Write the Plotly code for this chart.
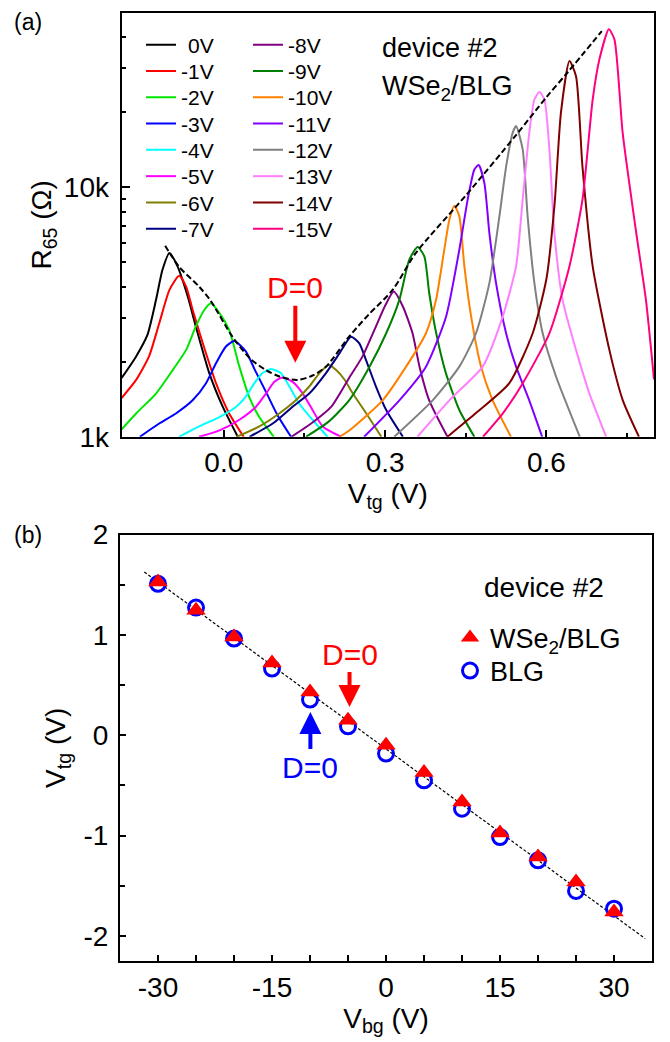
import plotly.graph_objects as go

FONT = "Arial, Liberation Sans, sans-serif"

# ---------------- panel (a) data: R65 (kOhm) vs Vtg (V) ----------------
curve_names = ["\u20040V", "-1V", "-2V", "-3V", "-4V", "-5V", "-6V", "-7V",
               "-8V", "-9V", "-10V", "-11V", "-12V", "-13V", "-14V", "-15V"]
curve_colors = ["#000000", "#FF0000", "#00E600", "#0000FF", "#00FFFF", "#FF00FF",
                "#808000", "#000080", "#800080", "#008000", "#FF8000", "#8000FF",
                "#808080", "#FF80FF", "#800000", "#FF0080"]

v0_x = [-0.19, -0.163, -0.142, -0.126, -0.114, -0.101, -0.086, -0.067, -0.052, -0.027, -0.002, 0.026]
v0_r = [1.72, 2.10, 2.56, 3.54, 4.67, 5.45, 4.82, 3.65, 2.77, 1.80, 1.32, 1.0]
v1_x = [-0.19, -0.163, -0.139, -0.12, -0.101, -0.083, -0.070, -0.058, -0.039, -0.0145, 0.010, 0.037]
v1_r = [1.43, 1.69, 2.10, 2.85, 3.88, 4.42, 4.0, 3.23, 2.37, 1.64, 1.24, 1.0]
v2_x = [-0.19, -0.163, -0.126, -0.095, -0.070, -0.052, -0.036, -0.024, -0.008, 0.010, 0.029, 0.047, 0.066, 0.093]
v2_r = [1.07, 1.24, 1.49, 1.85, 2.23, 2.77, 3.23, 3.43, 3.13, 2.68, 1.91, 1.45, 1.20, 1.0]
v3_x = [-0.156, -0.12, -0.089, -0.058, -0.033, -0.0145, 0.004, 0.0195, 0.041, 0.058, 0.078, 0.100, 0.125]
v3_r = [1.0, 1.13, 1.24, 1.40, 1.64, 1.97, 2.30, 2.42, 2.20, 1.85, 1.52, 1.22, 1.0]
v4_x = [-0.083, -0.046, -0.008, 0.023, 0.041, 0.057, 0.072, 0.088, 0.106, 0.122, 0.140, 0.165, 0.193]
v4_r = [1.0, 1.10, 1.20, 1.32, 1.45, 1.64, 1.80, 1.87, 1.80, 1.59, 1.36, 1.17, 1.0]
v5_x = [-0.046, -0.008, 0.029, 0.060, 0.0785, 0.094, 0.109, 0.128, 0.147, 0.165, 0.184, 0.218]
v5_r = [1.0, 1.06, 1.17, 1.32, 1.49, 1.66, 1.73, 1.66, 1.49, 1.28, 1.10, 1.0]
v6_x = [0.024, 0.066, 0.103, 0.134, 0.159, 0.178, 0.195, 0.209, 0.224, 0.240, 0.265, 0.293]
v6_r = [1.0, 1.10, 1.24, 1.40, 1.59, 1.80, 1.94, 1.85, 1.70, 1.49, 1.24, 1.0]
v7_x = [0.048, 0.091, 0.128, 0.159, 0.19, 0.215, 0.2366, 0.252, 0.2645, 0.283, 0.302, 0.333]
v7_r = [1.0, 1.13, 1.32, 1.49, 1.80, 2.16, 2.52, 2.37, 2.03, 1.59, 1.28, 1.0]
v8_x = [0.126, 0.165, 0.20, 0.233, 0.258, 0.283, 0.300, 0.316, 0.333, 0.351, 0.364, 0.382, 0.416]
v8_r = [1.0, 1.14, 1.32, 1.72, 2.10, 2.77, 3.35, 3.82, 3.33, 2.60, 1.91, 1.40, 1.0]
v9_x = [0.153, 0.195, 0.233, 0.271, 0.302, 0.3265, 0.345, 0.3605, 0.373, 0.382, 0.395, 0.413, 0.438, 0.466]
v9_r = [1.0, 1.15, 1.40, 1.91, 2.60, 3.54, 5.13, 5.76, 5.28, 3.77, 2.60, 1.80, 1.28, 1.0]
v10_x = [0.215, 0.2334, 0.2954, 0.339, 0.376, 0.3947, 0.410, 0.4195, 0.4288, 0.438, 0.4474, 0.46, 0.4784, 0.50, 0.534]
v10_r = [1.0, 1.06, 1.40, 1.91, 2.60, 3.54, 5.62, 7.41, 8.44, 7.65, 4.82, 3.03, 1.91, 1.40, 1.0]
v11_x = [0.261, 0.3265, 0.376, 0.4133, 0.438, 0.4535, 0.466, 0.474, 0.4846, 0.4939, 0.5063, 0.525, 0.5435, 0.568, 0.592]
v11_r = [1.0, 1.40, 1.91, 3.03, 5.62, 8.93, 11.8, 12.3, 10.4, 6.56, 4.13, 2.60, 1.91, 1.40, 1.0]
v12_x = [0.317, 0.3884, 0.438, 0.469, 0.4939, 0.5125, 0.525, 0.537, 0.5435, 0.5558, 0.565, 0.5776, 0.593, 0.618, 0.662]
v12_r = [1.0, 1.40, 1.91, 2.60, 4.13, 7.65, 12.1, 16.5, 17.6, 14.2, 7.65, 4.13, 2.60, 1.74, 1.0]
v13_x = [0.36, 0.4195, 0.4814, 0.5186, 0.5435, 0.5558, 0.568, 0.5776, 0.587, 0.5962, 0.6055, 0.6148, 0.630, 0.655, 0.680, 0.711]
v13_r = [1.0, 1.40, 1.91, 3.03, 4.82, 8.93, 16.5, 22.5, 24.1, 22.5, 14.2, 6.56, 3.54, 2.23, 1.49, 1.0]
v14_x = [0.416, 0.47, 0.531, 0.5744, 0.60, 0.615, 0.627, 0.6427, 0.655, 0.667, 0.686, 0.717, 0.742, 0.772]
v14_r = [1.0, 1.25, 1.64, 2.60, 4.3, 8.5, 20.0, 32.1, 27.9, 12.1, 4.82, 2.23, 1.40, 1.0]
v15_x = [0.482, 0.52, 0.556, 0.6055, 0.6427, 0.667, 0.686, 0.6985, 0.716, 0.7264, 0.7418, 0.767, 0.785, 0.80]
v15_r = [1.0, 1.25, 1.64, 2.60, 4.82, 8.93, 22.5, 32.6, 43.0, 39.2, 16.5, 6.56, 3.54, 1.70]

env_x = [-0.109, -0.083, -0.046, -0.024, 0.016, 0.05, 0.0785, 0.105, 0.137, 0.165, 0.19, 0.233,
         0.27, 0.314, 0.357, 0.4505, 0.5435, 0.60, 0.64, 0.703]
env_r = [5.83, 4.8, 4.0, 3.5, 2.52, 2.05, 1.85, 1.74, 1.69, 1.76, 1.91, 2.52,
         3.1, 3.88, 5.45, 9.3, 16.2, 23.0, 29.0, 42.3]

curves_x = [v0_x, v1_x, v2_x, v3_x, v4_x, v5_x, v6_x, v7_x,
            v8_x, v9_x, v10_x, v11_x, v12_x, v13_x, v14_x, v15_x]
curves_r = [v0_r, v1_r, v2_r, v3_r, v4_r, v5_r, v6_r, v7_r,
            v8_r, v9_r, v10_r, v11_r, v12_r, v13_r, v14_r, v15_r]

ya_tickvals = [1000, 10000]
ya_ticktext = ["1k", "10k"]
ya_minor = [2000, 3000, 4000, 5000, 6000, 7000, 8000, 9000, 20000, 30000, 40000]
xa_tickvals = [0.0, 0.3, 0.6]
xa_ticktext = ["0.0", "0.3", "0.6"]
xa_minor = [0.15, 0.45, 0.75]

# ---------------- panel (b) data: Vtg at D=0 vs Vbg ----------------
vbg = [-30, -25, -20, -15, -10, -5, 0, 5, 10, 15, 20, 25, 30]
vtg_wse2 = [1.528, 1.246, 0.98, 0.721, 0.432, 0.150, -0.10, -0.372, -0.665, -0.974, -1.213, -1.463, -1.762]
vtg_blg = [1.51, 1.273, 0.964, 0.665, 0.356, 0.09, -0.182, -0.449, -0.731, -1.014, -1.246, -1.552, -1.728]
fit_x = [-31.8, 34.1]
fit_y = [1.628, -2.027]
yb_tickvals = [2, 1, 0, -1, -2]
yb_ticktext = ["2", "1", "0", "-1", "-2"]
xb_tickvals = [-30, -15, 0, 15, 30]
xb_ticktext = ["-30", "-15", "0", "15", "30"]

# ---------------- layout helpers (pixel geometry of the page) ----------------
W, H = 670, 1042
ML, MR, MT, MB = 120, 16, 13, 81
PW, PH = W - ML - MR, H - MT - MB


def px_x(p):
    return (p - ML) / PW


def px_y(p):
    return 1 - (p - MT) / PH


fig = go.Figure()

legend_layouts = {}
for i, (name, col) in enumerate(zip(curve_names, curve_colors)):
    key = "legend" if i == 0 else "legend%d" % (i + 1)
    fig.add_trace(go.Scatter(
        x=curves_x[i], y=[r * 1000 for r in curves_r[i]], mode="lines",
        line=dict(color=col, width=2, shape="spline", smoothing=0.6),
        name=name, xaxis="x", yaxis="y", legend=key))
    col_i, row_i = divmod(i, 8)
    legend_layouts[key] = dict(
        x=px_x(141 if col_i == 0 else 248), y=px_y(45 + 26.3 * row_i),
        xanchor="left", yanchor="middle", bgcolor="rgba(0,0,0,0)",
        font=dict(family=FONT, size=21), itemwidth=30)

fig.add_trace(go.Scatter(
    x=env_x, y=[r * 1000 for r in env_r], mode="lines",
    line=dict(color="black", width=2, dash="6px,3px", shape="spline", smoothing=0.8),
    showlegend=False, xaxis="x", yaxis="y"))

fig.add_trace(go.Scatter(
    x=fit_x, y=fit_y, mode="lines",
    line=dict(color="black", width=1.2, dash="3px,2px"),
    showlegend=False, xaxis="x2", yaxis="y2"))
fig.add_trace(go.Scatter(
    x=vbg, y=vtg_blg, mode="markers", name="BLG",
    marker=dict(symbol="circle-open", size=15, line=dict(color="#0000FF", width=3), color="#0000FF"),
    xaxis="x2", yaxis="y2", legend="legend18"))
fig.add_trace(go.Scatter(
    x=vbg, y=vtg_wse2, mode="markers", name="WSe<sub>2</sub>/BLG",
    marker=dict(symbol="triangle-up", size=17, color="#FF0000"),
    xaxis="x2", yaxis="y2", legend="legend17"))
legend_layouts["legend17"] = dict(x=px_x(450), y=px_y(638), xanchor="left", yanchor="middle",
                                  bgcolor="rgba(0,0,0,0)", font=dict(family=FONT, size=27), itemwidth=30)
legend_layouts["legend18"] = dict(x=px_x(450), y=px_y(671), xanchor="left", yanchor="middle",
                                  bgcolor="rgba(0,0,0,0)", font=dict(family=FONT, size=27), itemwidth=30)

TICKFONT = dict(family=FONT, size=28, color="black")
TITLEFONT = dict(family=FONT, size=28, color="black")
axis_common = dict(showline=True, linecolor="black", linewidth=2, mirror=True,
                   ticks="inside", tickcolor="black", tickwidth=1.5, showgrid=False,
                   zeroline=False, automargin=False, tickfont=TICKFONT)

fig.update_layout(
    width=W, height=H,
    margin=dict(l=ML, r=MR, t=MT, b=MB),
    paper_bgcolor="white", plot_bgcolor="white",
    font=dict(family=FONT, color="black"),
    xaxis=dict(domain=[0.003, 1.0], range=[-0.19, 0.80], anchor="y",
               tickvals=xa_tickvals, ticktext=xa_ticktext, ticklen=7,
               minor=dict(tickvals=xa_minor, ticks="inside", ticklen=4, tickcolor="black", tickwidth=1.5),
               title=dict(text="V<sub>tg</sub> (V)", font=TITLEFONT, standoff=6),
               **axis_common),
    yaxis=dict(domain=[0.553, 1.0], type="log", range=[3, 4.699], anchor="x",
               tickvals=ya_tickvals, ticktext=ya_ticktext, ticklen=8, ticklabelstandoff=5,
               minor=dict(tickvals=ya_minor, ticks="inside", ticklen=4, tickcolor="black", tickwidth=1.5),
               title=dict(text="R<sub>65</sub> (\u03a9)", font=TITLEFONT, standoff=4),
               **axis_common),
    xaxis2=dict(domain=[0.0, 0.9963], range=[-35, 35], anchor="y2",
                tickvals=xb_tickvals, ticktext=xb_ticktext, ticklen=6,
                minor=dict(dtick=5, tick0=0, ticks="inside", ticklen=6, tickcolor="black", tickwidth=1.5),
                title=dict(text="V<sub>bg</sub> (V)", font=TITLEFONT, standoff=6),
                **axis_common),
    yaxis2=dict(domain=[0.0, 0.4497], range=[-2.25, 2.0], anchor="x2",
                tickvals=yb_tickvals, ticktext=yb_ticktext, ticklen=6, ticklabelstandoff=4,
                minor=dict(dtick=0.5, tick0=0, ticks="inside", ticklen=5, tickcolor="black", tickwidth=1.5),
                title=dict(text="V<sub>tg</sub> (V)", font=TITLEFONT, standoff=10),
                **axis_common),
    **legend_layouts,
)

for txt, yy in [("(a)", 0.9905), ("(b)", 0.4494)]:
    fig.add_annotation(xref="paper", yref="paper", showarrow=False, xanchor="left",
                       yanchor="middle", x=-0.202, y=yy, text=txt,
                       font=dict(family=FONT, color="black", size=23))

fig.add_annotation(xref="paper", yref="paper", x=0.487, y=0.963, text="device #2",
                   showarrow=False, xanchor="left", yanchor="middle",
                   font=dict(family=FONT, size=27, color="black"))
fig.add_annotation(xref="paper", yref="paper", x=0.487, y=0.921, text="WSe<sub>2</sub>/BLG",
                   showarrow=False, xanchor="left", yanchor="middle",
                   font=dict(family=FONT, size=27, color="black"))
fig.add_annotation(xref="paper", yref="paper", x=0.677, y=0.3945, text="device #2",
                   showarrow=False, xanchor="left", yanchor="middle",
                   font=dict(family=FONT, size=28, color="black"))

# D=0 labels with arrows (text sits at the arrow tail)
fig.add_annotation(xref="x", yref="y", x=0.133, y=3.297, text="D=0", showarrow=True,
                   ax=0, ay=-75, arrowhead=2, arrowsize=1.1, arrowwidth=4, arrowcolor="#FF0000",
                   font=dict(family=FONT, size=30, color="#FF0000"))
fig.add_annotation(xref="x2", yref="y2", x=-4.8, y=0.282, text="D=0", showarrow=True,
                   ax=0, ay=-53, arrowhead=2, arrowsize=1.1, arrowwidth=4, arrowcolor="#FF0000",
                   font=dict(family=FONT, size=30, color="#FF0000"))
fig.add_annotation(xref="x2", yref="y2", x=-9.95, y=0.232, text="D=0", showarrow=True,
                   ax=0, ay=55, arrowhead=2, arrowsize=1.1, arrowwidth=4, arrowcolor="#0000FF",
                   font=dict(family=FONT, size=30, color="#0000FF"))

fig.write_html("out.html")
